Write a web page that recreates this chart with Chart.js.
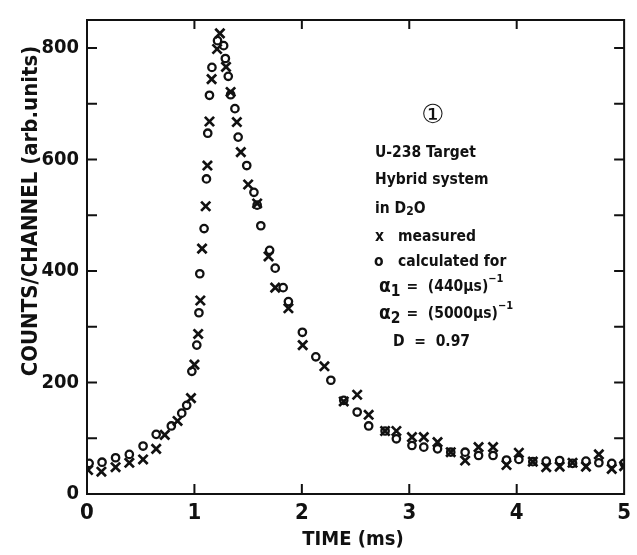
<!DOCTYPE html>
<html>
<head>
<meta charset="utf-8">
<script src="https://cdn.jsdelivr.net/npm/chart.js@4"></script>
<style>body{margin:0;background:#fff}</style>
</head>
<body>
<canvas id="mycanvas" width="637" height="555"></canvas>
<script>
// measured (x markers)
const timeMeasured = [0.01, 0.134, 0.266, 0.394, 0.522, 0.644, 0.724, 0.843, 0.968, 1.0,
    1.035, 1.055, 1.071, 1.105, 1.121, 1.14, 1.16, 1.211, 1.237, 1.294,
    1.337, 1.395, 1.432, 1.5, 1.584, 1.69, 1.752, 1.875, 2.008, 2.21,
    2.39, 2.515, 2.622, 2.775, 2.88, 3.025, 3.135, 3.263, 3.386, 3.52,
    3.645, 3.78, 3.905, 4.02, 4.15, 4.275, 4.4, 4.52, 4.645, 4.765, 4.885, 5.0];
const countsMeasured = [43, 40, 48, 56, 62, 81, 106, 131, 172, 232,
    287, 347, 440, 516, 589, 668, 744, 798, 826, 766,
    721, 667, 613, 555, 521, 426, 370, 333, 267, 229,
    166, 178, 142, 113, 113, 102, 102, 93, 75, 60,
    84, 84, 52, 74, 58, 48, 49, 56, 49, 71, 45, 50];

// calculated (o markers)
const timeCalc = [0.02, 0.14, 0.266, 0.394, 0.522, 0.644, 0.785, 0.882, 0.928, 0.976,
    1.022, 1.042, 1.05, 1.09, 1.112, 1.124, 1.14, 1.163, 1.215, 1.272,
    1.288, 1.315, 1.337, 1.377, 1.407, 1.487, 1.554, 1.584, 1.618, 1.7,
    1.752, 1.826, 1.875, 2.005, 2.13, 2.27, 2.39, 2.515, 2.622, 2.775,
    2.88, 3.025, 3.135, 3.263, 3.386, 3.52, 3.645, 3.78, 3.905, 4.02,
    4.15, 4.275, 4.4, 4.52, 4.645, 4.765, 4.885, 5.0];
const countsCalc = [55, 57, 65, 71, 86, 107, 122, 145, 159, 220,
    267, 325, 395, 476, 565, 647, 715, 765, 813, 804,
    781, 749, 716, 691, 640, 589, 541, 518, 481, 437,
    405, 370, 345, 290, 246, 204, 168, 147, 122, 113,
    99, 87, 84, 81, 75, 75, 69, 69, 61, 62,
    58, 59, 60, 55, 59, 56, 55, 55];

const xTicks = [0, 1, 2, 3, 4, 5];
const yTicks = [0, 200, 400, 600, 800];
const yMinor = [100, 300, 500, 700];

const ink = '#111';
const fam = '"DejaVu Sans Condensed", "DejaVu Sans", sans-serif';

const pts = (xs, ys) => xs.map((t, i) => ({x: t, y: ys[i]}));

// box, inward ticks
const frame = {
    id: 'frame',
    beforeDatasetsDraw(chart) {
        const {ctx, chartArea: a, scales: {x, y}} = chart;
        ctx.save();
        ctx.strokeStyle = ink;
        ctx.lineWidth = 2;
        ctx.strokeRect(a.left, a.top, a.right - a.left, a.bottom - a.top);
        ctx.beginPath();
        yTicks.slice(1).concat(yMinor).forEach(v => {
            const py = y.getPixelForValue(v);
            ctx.moveTo(a.left, py); ctx.lineTo(a.left + 10, py);
            ctx.moveTo(a.right, py); ctx.lineTo(a.right - 10, py);
        });
        xTicks.slice(1, -1).forEach(v => {
            const px = x.getPixelForValue(v);
            ctx.moveTo(px, a.bottom); ctx.lineTo(px, a.bottom - 10);
            ctx.moveTo(px, a.top); ctx.lineTo(px, a.top + 9);
        });
        ctx.stroke();
        ctx.restore();
    }
};

// draws text pieces one after another, with sub/superscripts
const rich = (ctx, x, y, parts) => {
    parts.forEach(p => {
        ctx.font = 'bold ' + (p.size || 15.5) + 'px ' + fam;
        ctx.fillText(p.t, x, y + (p.dy || 0));
        x += ctx.measureText(p.t).width + (p.gap || 0);
    });
};

const notes = {
    id: 'notes',
    afterDraw(chart) {
        const ctx = chart.ctx;
        ctx.save();
        ctx.fillStyle = ink;
        ctx.textBaseline = 'middle';

        // axis titles
        ctx.font = 'bold 20px ' + fam;
        ctx.textAlign = 'center';
        ctx.fillText('TIME (ms)', 353, 540);
        ctx.save();
        ctx.translate(31, 211);
        ctx.rotate(-Math.PI / 2);
        ctx.font = 'bold 22px ' + fam;
        ctx.fillText('COUNTS/CHANNEL (arb.units)', 0, 0);
        ctx.restore();

        // annotation block
        ctx.font = '26px "DejaVu Sans", "Noto Sans CJK JP", sans-serif';
        ctx.fillText('\u2460', 433, 116);
        ctx.textAlign = 'left';
        rich(ctx, 375, 153, [{t: 'U-238 Target'}]);
        rich(ctx, 375, 180, [{t: 'Hybrid system'}]);
        rich(ctx, 375, 209, [{t: 'in D'}, {t: '2', size: 12, dy: 3}, {t: 'O'}]);
        rich(ctx, 375, 237, [{t: 'x'}]);
        rich(ctx, 398, 237, [{t: 'measured'}]);
        rich(ctx, 374, 262, [{t: 'o'}]);
        rich(ctx, 398, 262, [{t: 'calculated for'}]);
        rich(ctx, 379, 287, [{t: '\u03b1', size: 19}, {t: '1', dy: 5, gap: 6}, {t: '=  (440\u00b5s)'}, {t: '\u22121', size: 11, dy: -8}]);
        rich(ctx, 379, 314, [{t: '\u03b1', size: 19}, {t: '2', dy: 5, gap: 6}, {t: '=  (5000\u00b5s)'}, {t: '\u22121', size: 11, dy: -8}]);
        rich(ctx, 393, 342, [{t: 'D  =  0.97'}]);
        ctx.restore();
    }
};

const data = {
    datasets: [{
        label: 'measured',
        data: pts(timeMeasured, countsMeasured),
        pointStyle: 'crossRot',
        pointRadius: 6.5,
        borderWidth: 2.7,
        borderColor: ink,
        backgroundColor: ink
    }, {
        label: 'calculated',
        data: pts(timeCalc, countsCalc),
        pointStyle: 'circle',
        pointRadius: 3.7,
        borderWidth: 2.3,
        borderColor: ink,
        backgroundColor: 'rgba(0,0,0,0)'
    }]
};

const ctx = document.getElementById('mycanvas').getContext('2d');
const myChart = new Chart(ctx, {
    type: 'scatter',
    data: data,
    plugins: [frame, notes],
    options: {
        responsive: false,
        animation: {duration: 0},
        layout: {padding: {top: 14, right: 4, left: 0, bottom: 0}},
        plugins: {legend: {display: false}, tooltip: {enabled: false}},
        scales: {
            x: {
                type: 'linear',
                min: 0,
                max: 5,
                afterFit: s => { s.height = 61; },
                afterBuildTicks: s => { s.ticks = xTicks.map(v => ({value: v})); },
                grid: {display: false, drawTicks: false},
                border: {display: false},
                ticks: {color: ink, font: {family: fam, size: 22, weight: 'bold'}, padding: 6}
            },
            y: {
                min: 0,
                max: 850,
                afterFit: s => { s.width = 87; },
                afterBuildTicks: s => { s.ticks = yTicks.map(v => ({value: v})); },
                grid: {display: false, drawTicks: false},
                border: {display: false},
                ticks: {color: ink, font: {family: fam, size: 20, weight: 'bold'}, padding: 8}
            }
        }
    }
});
</script>
</body>
</html>
